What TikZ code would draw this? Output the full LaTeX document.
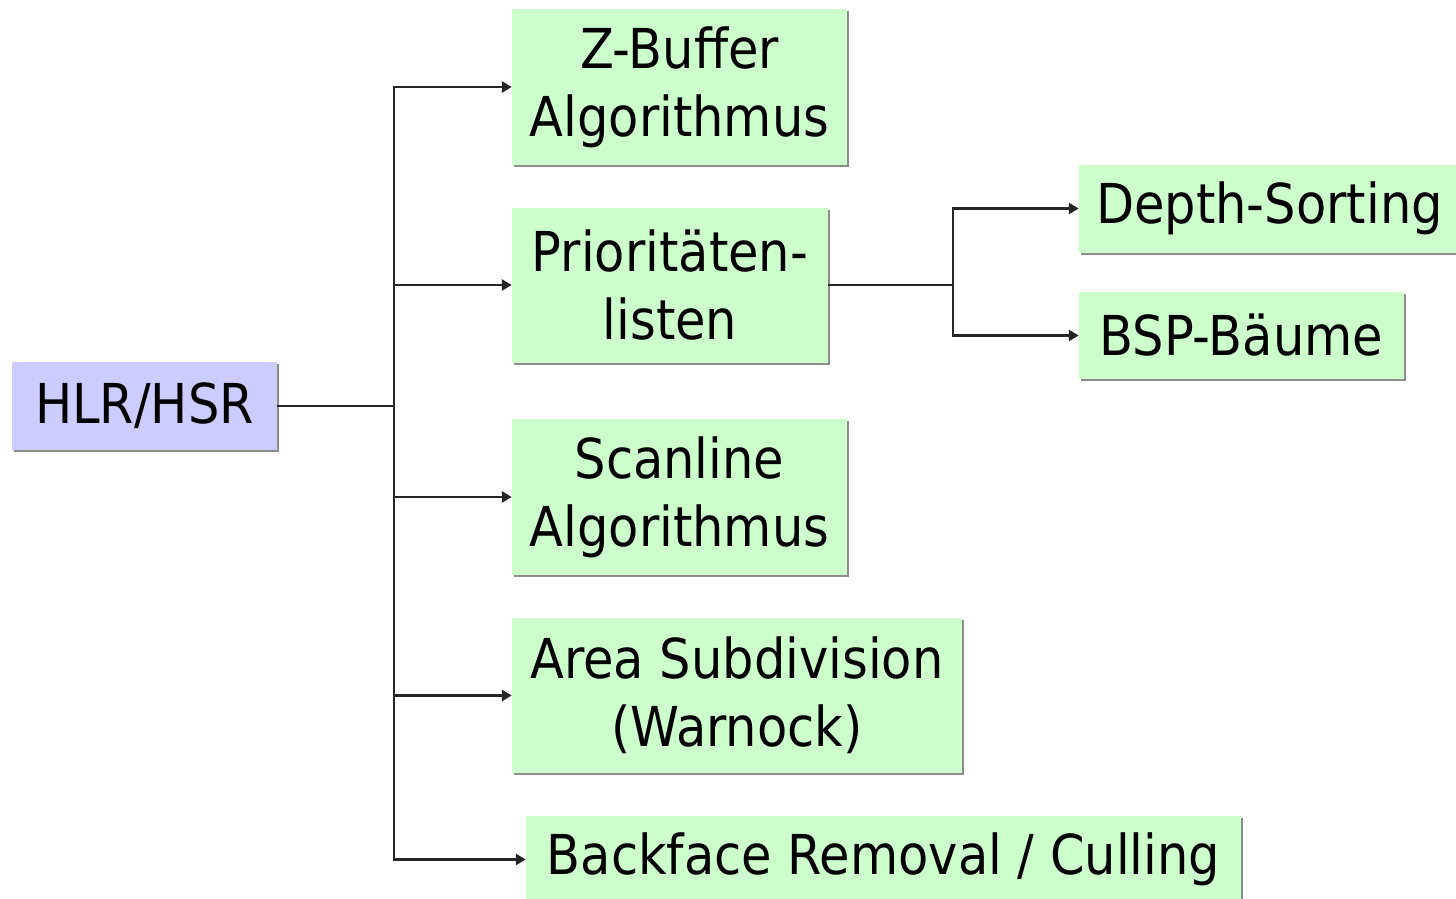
\documentclass[tikz,border=0pt]{standalone}
\usepackage{fontspec}
\setmainfont{DejaVu Sans Condensed}
\usetikzlibrary{arrows.meta,shadows}
\definecolor{boxgreen}{HTML}{CCFFCC}
\definecolor{boxblue}{HTML}{CCCCFF}
\tikzset{
  box/.style={fill=boxgreen, draw=none, align=center, inner sep=0pt,
    font=\fontsize{55}{68}\selectfont,
    drop shadow={shadow xshift=2pt, shadow yshift=-2pt, fill=black!45, opacity=1}},
  rootbox/.style={box, fill=boxblue},
  conn/.style={line width=2.6pt, draw=black!85},
  arr/.style={conn, -{Triangle[length=10pt,width=11pt]}},
}
\begin{document}
\begin{tikzpicture}[x=1pt,y=1pt]
\clip (0,0) rectangle (1456,-899);
\fill[white] (0,0) rectangle (1456,-899);
\node[rootbox, minimum width=265pt, minimum height=88pt] (hlr) at (144.5,-406) {HLR/HSR};
\node[box, minimum width=335pt, minimum height=156pt] (zb) at (679.5,-87) {Z-Buffer\\Algorithmus};
\node[box, minimum width=316pt, minimum height=155pt] (pl) at (670,-285) {Prioritäten-\\listen};
\node[box, minimum width=335pt, minimum height=156pt] (sc) at (679.5,-497) {Scanline\\Algorithmus};
\node[box, minimum width=450pt, minimum height=155pt] (as) at (737,-695.5) {Area Subdivision\\(Warnock)};
\node[box, minimum width=715pt, minimum height=88pt] (bf) at (883.5,-859.5) {Backface Removal / Culling};
\node[box, minimum width=381pt, minimum height=88pt] (ds) at (1269.5,-208.5) {Depth-Sorting};
\node[box, minimum width=325pt, minimum height=87pt] (bsp) at (1241.5,-335.5) {BSP-Bäume};
\coordinate (j) at (394,-406);
\coordinate (k) at (953,-285);
\draw[conn] (hlr.east) -- (j);
\draw[arr] (j) |- (zb.west);
\draw[arr] (j) |- (pl.west);
\draw[arr] (j) |- (sc.west);
\draw[arr] (j) |- (as.west);
\draw[arr] (j) |- (bf.west);
\draw[conn] (pl.east) -- (k);
\draw[arr] (k) |- (ds.west);
\draw[arr] (k) |- (bsp.west);
\end{tikzpicture}
\end{document}
